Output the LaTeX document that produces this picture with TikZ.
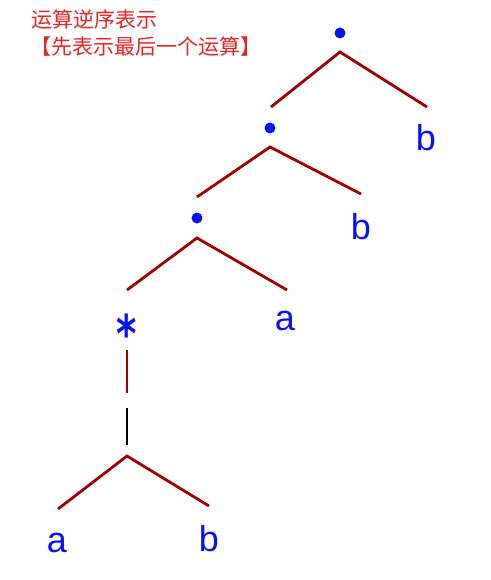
\documentclass[tikz,border=0pt]{standalone}
\usepackage{fontspec}
\setmainfont{Liberation Sans}
\newfontfamily\cjk{Noto Sans CJK SC}
\newfontfamily\dvs{DejaVu Sans}
\definecolor{lred}{HTML}{A00000}
\definecolor{tblue}{HTML}{0A14F0}
\definecolor{tred}{HTML}{EE2222}
\begin{document}
\begin{tikzpicture}[x=1pt,y=-1pt,
  edge/.style={draw=lred,line width=2.8pt},
  bar/.style={draw=black,line width=1.3pt},
  leaf/.style={text=tblue,font=\fontsize{36}{40}\selectfont,anchor=base,inner sep=0pt},
  opdot/.style={circle,fill=tblue,minimum size=11pt,inner sep=0pt},
  note/.style={text=tred,font=\cjk\fontsize{21}{24}\selectfont,inner sep=0pt}]
\useasboundingbox (0,0) rectangle (490,580);
% notes
\node[note,anchor=west] (n1) at (31,20) {运算逆序表示};
\node[note] (n2) at (146,47) {【先表示最后一个运算】};
% operators
\node[opdot] (d1) at (340,33) {};
\node[opdot] (d2) at (270,128) {};
\node[opdot] (d3) at (197,218) {};
\node[text=tblue,font=\dvs\bfseries\fontsize{52}{56}\selectfont,anchor=center,inner sep=0pt,xscale=0.75] (st) at (127,333) {*};
% leaves
\node[leaf] (b1) at (426,151) {b};
\node[leaf] (b2) at (361,239) {b};
\node[leaf] (a1) at (285,330) {a};
\node[leaf] (a2) at (57,552) {a};
\node[leaf] (b3) at (209,551) {b};
% coordinates for edges
\coordinate (r1) at (340,52);
\coordinate (l1) at (271,107);
\coordinate (rr1) at (427,107);
\coordinate (r2) at (270,147);
\coordinate (l2) at (197,197);
\coordinate (rr2) at (361,194);
\coordinate (r3) at (197,238);
\coordinate (l3) at (127,290);
\coordinate (rr3) at (287,290);
\coordinate (s1) at (127,350);
\coordinate (s2) at (127,393);
\coordinate (v1) at (127,408);
\coordinate (v2) at (127,445);
\coordinate (r4) at (127,456);
\coordinate (l4) at (58,509);
\coordinate (rr4) at (209,506);
\draw[edge] (l1) -- (r1) -- (rr1);
\draw[edge] (l2) -- (r2) -- (rr2);
\draw[edge] (l3) -- (r3) -- (rr3);
\draw[edge] (s1) -- (s2);
\draw[bar] (v1) -- (v2);
\draw[edge] (l4) -- (r4) -- (rr4);
\end{tikzpicture}
\end{document}
